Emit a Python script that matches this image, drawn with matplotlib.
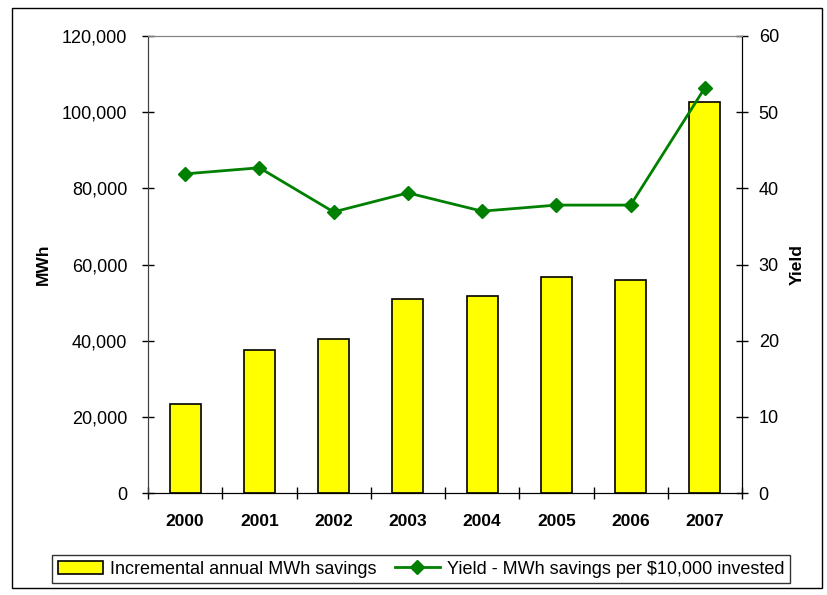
import matplotlib.pyplot as plt
from matplotlib.patches import Rectangle
from matplotlib.ticker import FuncFormatter

plt.rcParams['font.family'] = ['Liberation Sans', 'DejaVu Sans']

# data
years = ['2000', '2001', '2002', '2003', '2004', '2005', '2006', '2007']
mwh_savings = [23400, 37500, 40500, 50900, 51600, 56800, 56000, 102700]
yield_per_10k = [41.9, 42.7, 36.9, 39.4, 37.0, 37.8, 37.8, 53.2]

fig = plt.figure(figsize=(8.27, 5.95), dpi=100)
ax = fig.add_axes([148 / 827, 1 - 493 / 595, 594 / 827, 457 / 595])
ax2 = ax.twinx()

x = list(range(len(years)))
bars = ax.bar(x, mwh_savings, width=0.42, color='#ffff00', edgecolor='black',
              linewidth=1.2, label='Incremental annual MWh savings', zorder=2)
line, = ax2.plot(x, yield_per_10k, color='#008000', lw=2, marker='D', markersize=7,
                 label='Yield - MWh savings per $10,000 invested')

ax.set_xlim(-0.5, len(years) - 0.5)
ax.set_ylim(0, 120000)
ax.set_yticks(range(0, 120001, 20000))
ax.yaxis.set_major_formatter(FuncFormatter(lambda v, p: '{:,.0f}'.format(v)))
ax2.set_ylim(0, 60)
ax2.set_yticks(range(0, 61, 10))

ax.set_xticks(x)
ax.set_xticklabels(years, fontsize=12.5, fontweight='bold')
ax.set_xticks([i - 0.5 for i in range(len(years) + 1)], minor=True)
ax.tick_params(axis='x', which='major', length=0, pad=15)
ax.tick_params(axis='x', which='minor', length=8, direction='inout', width=1)
ax.tick_params(axis='y', labelsize=13, length=8, direction='inout', width=1, pad=11)
ax2.tick_params(axis='y', labelsize=13, length=8, direction='inout', width=1, pad=8)

ax.set_ylabel('MWh', fontsize=12.5, fontweight='bold', labelpad=8)
ax2.set_ylabel('Yield', fontsize=12.5, fontweight='bold', labelpad=8, rotation=90)

for a in (ax, ax2):
    a.spines['top'].set_color('#808080')
    a.spines['left'].set_color('#404040')
    a.spines['bottom'].set_color('black')
    a.spines['right'].set_color('black')

fig.legend([bars, line], [bars.get_label(), line.get_label()], loc='center',
           bbox_to_anchor=(421 / 827, 1 - 569 / 595), ncol=2, fontsize=13,
           frameon=True, fancybox=False, edgecolor='black', handlelength=2.5,
           columnspacing=1.0, handletextpad=0.4, borderpad=0.3)

fig.patches.append(Rectangle((12 / 827, 7 / 595), 810 / 827, 580 / 595, transform=fig.transFigure,
                             fill=False, edgecolor='black', linewidth=1))

fig.savefig('out.png', dpi=100)
